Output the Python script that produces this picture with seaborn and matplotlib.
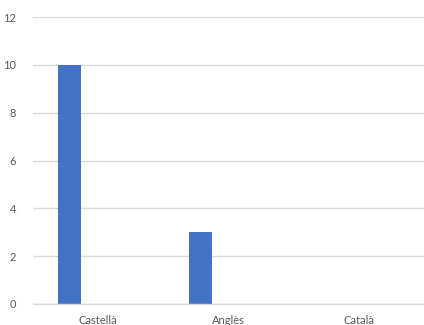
import matplotlib
matplotlib.use('Agg')
from matplotlib import pyplot as plt
import seaborn as sns
import pandas as pd

categories = ['Castellà', 'Anglès', 'Català']
series = ['Sèrie 1', 'Sèrie 2', 'Sèrie 3']
values_s1 = [10, 3, 0]
values_s2 = [0, 0, 0]
values_s3 = [0, 0, 0]
y_ticks = [0, 2, 4, 6, 8, 10, 12]

df = pd.DataFrame({
    'idioma': categories * 3,
    'serie': [series[0]] * 3 + [series[1]] * 3 + [series[2]] * 3,
    'valor': values_s1 + values_s2 + values_s3,
})

sns.set_style('white')
plt.rcParams['font.family'] = ['Lato', 'DejaVu Sans']

fig = plt.figure(figsize=(4.24, 3.25), dpi=100)
ax = fig.add_axes([33 / 424, 1 - 304 / 325, 1 - 33 / 424, (304 - 17) / 325])

sns.barplot(data=df, x='idioma', y='valor', hue='serie', order=categories,
            palette=['#4472C4', '#ED7D31', '#A5A5A5'], saturation=1,
            width=0.65, gap=0.19, linewidth=0, legend=False, ax=ax)

ax.set_ylim(0, 12)
ax.set_xlim(-0.5, 2.5)
ax.set_yticks(y_ticks)
ax.yaxis.grid(True, color='#d9d9d9', linewidth=1)
ax.set_axisbelow(True)
for s in ['top', 'right', 'left']:
    ax.spines[s].set_visible(False)
ax.spines['bottom'].set_color('#d9d9d9')
ax.spines['bottom'].set_linewidth(1)
ax.tick_params(axis='both', length=0, labelsize=8, colors='#595959')
ax.tick_params(axis='y', pad=12)
ax.tick_params(axis='x', pad=8)
ax.set_xlabel('')
ax.set_ylabel('')

fig.savefig('out.png', dpi=100)
